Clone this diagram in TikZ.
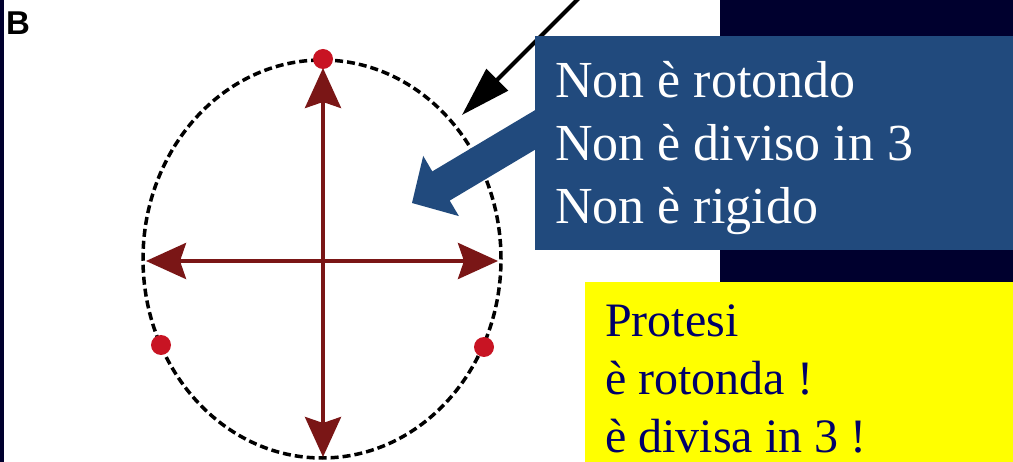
\documentclass[tikz,border=0pt]{standalone}
\usepackage{fontspec}
\setmainfont{Liberation Serif}
\newfontfamily\labelfont{Liberation Sans}
\usetikzlibrary{arrows.meta}
\definecolor{navybg}{RGB}{0,0,46}
\definecolor{boxblue}{RGB}{33,74,125}
\definecolor{axisred}{RGB}{122,22,22}
\definecolor{dotred}{RGB}{200,20,35}
\definecolor{textnavy}{RGB}{0,0,105}
\definecolor{brightyellow}{RGB}{255,255,0}
\begin{document}
\begin{tikzpicture}[x=1pt,y=-1pt,
  axis/.style={draw=axisred, line width=4pt,
    {Stealth[length=40pt,width=36pt,inset=6pt]}-{Stealth[length=40pt,width=36pt,inset=6pt]}},
  dot/.style={circle, fill=dotred, inner sep=0pt, minimum size=20pt},
  bluetext/.style={anchor=base west, text=white, font=\fontsize{52}{63}\selectfont, inner sep=0pt},
  yellowtext/.style={anchor=base west, text=textnavy, font=\fontsize{48}{58}\selectfont, inner sep=0pt},
  oval/.style={draw=black, line width=3.5pt, dash pattern=on 8pt off 4pt},
  pointer/.style={draw=black, line width=4pt, -{Triangle[length=50pt,width=30pt]}}
]
\useasboundingbox (0,0) rectangle (1013,462);
\fill[white] (0,0) rectangle (1013,462);
% backgrounds
\fill[navybg] (0,0) rectangle (4,462);
\fill[navybg] (720,0) rectangle (1013,282);
\node[anchor=north west, inner sep=0pt, font=\labelfont\bfseries\fontsize{33}{33}\selectfont] (lab) at (6,12) {B};

% ellipse
\coordinate (c) at (322,259);
\draw[oval] (c) ellipse [x radius=179pt, y radius=199pt];

% axes
\coordinate (up) at (323,68);
\coordinate (down) at (323,457);
\coordinate (left) at (146,261);
\coordinate (right) at (498,261);
\draw[axis] (up) -- (down);
\draw[axis] (left) -- (right);

% dots
\node[dot] (d1) at (323,59) {};
\node[dot] (d2) at (161,345) {};
\node[dot] (d3) at (484,347) {};

% black arrow
\coordinate (src) at (582,-5);
\coordinate (tip) at (462,115);
\draw[pointer] (src) -- (tip);

% blue box and arrow
\fill[boxblue] (536.3,109.4) -- (432.3,171.4) -- (423.2,155.9) -- (412,203)
  -- (458.9,216.1) -- (449.7,200.6) -- (553.7,138.6) -- cycle;
\fill[boxblue] (535,36) rectangle (1013,250);
\node[bluetext] (t1) at (555,98) {Non è rotondo};
\node[bluetext] (t2) at (555,161) {Non è diviso in 3};
\node[bluetext] (t3) at (555,224) {Non è rigido};

% yellow box
\fill[brightyellow] (585,282) rectangle (1013,462);
\node[yellowtext] (y1) at (605,337) {Protesi};
\node[yellowtext] (y2) at (605,395) {è rotonda !};
\node[yellowtext] (y3) at (605,453) {è divisa in 3 !};
\end{tikzpicture}
\end{document}
